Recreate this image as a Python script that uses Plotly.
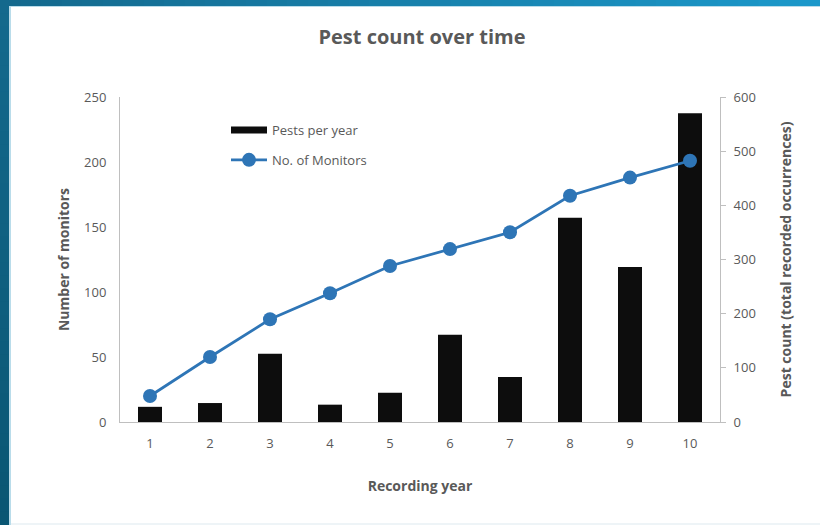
import plotly.graph_objects as go

# Recording years and measured series
years = [1, 2, 3, 4, 5, 6, 7, 8, 9, 10]
year_labels = [str(y) for y in years]
pests_per_year = [28, 35, 126, 32, 54, 161, 83, 377, 286, 570]
monitors = [20, 50, 79, 99, 120, 133, 146, 174, 188, 201]

monitor_ticks = [0, 50, 100, 150, 200, 250]
pest_ticks = [0, 100, 200, 300, 400, 500, 600]

W, H = 820, 525
L, R, T, B = 120, 100, 97, 103
PW, PH = W - L - R, H - T - B

GREY = "#595959"
AXIS = "#bfbfbf"
BLUE = "#2E75B6"
FONT = "Open Sans"


def px_x(px):
    return (px - L) / PW


def px_y(py):
    return (H - B - py) / PH


def mix(c1, c2, t):
    a = [int(c1[i:i + 2], 16) for i in (1, 3, 5)]
    b = [int(c2[i:i + 2], 16) for i in (1, 3, 5)]
    return "#" + "".join(f"{round(a[k] + (b[k] - a[k]) * t):02x}" for k in range(3))


fig = go.Figure()

fig.add_trace(go.Bar(
    x=years, y=pests_per_year, name="Pests per year",
    marker=dict(color="#0d0d0d", line=dict(width=0)),
    width=0.4, yaxis="y", showlegend=False, legendgroup="pests",
))
# legend entry for the bars, shown as a wide black swatch
fig.add_trace(go.Scatter(
    x=[None], y=[None], mode="lines", name="Pests per year",
    line=dict(color="#0d0d0d", width=7), yaxis="y",
    legendgroup="pests", showlegend=True,
))
fig.add_trace(go.Scatter(
    x=years, y=monitors, name="No. of Monitors", mode="lines+markers",
    line=dict(color=BLUE, width=2.75), marker=dict(color=BLUE, size=14),
    yaxis="y2", legendgroup="monitors",
))

# frame: gradient bands along the top and left edges
shapes = []
n = 40
for i in range(n):
    x0, x1 = W * i / n, W * (i + 1) / n
    shapes.append(dict(type="rect", xref="paper", yref="paper",
                       x0=px_x(x0), x1=px_x(x1 + 1), y0=px_y(6), y1=px_y(0),
                       fillcolor=mix("#14698d", "#1b98ca", i / (n - 1)),
                       line=dict(width=0), layer="below"))
for i in range(n):
    y0, y1 = H * i / n, H * (i + 1) / n
    shapes.append(dict(type="rect", xref="paper", yref="paper",
                       x0=px_x(0), x1=px_x(9), y0=px_y(y1 + 1), y1=px_y(max(y0, 0)),
                       fillcolor=mix("#14698d", "#0a5673", i / (n - 1)),
                       line=dict(width=0), layer="below"))
shapes.append(dict(type="rect", xref="paper", yref="paper",
                   x0=px_x(9), x1=px_x(11), y0=px_y(H), y1=px_y(6),
                   fillcolor="#b9dcea", line=dict(width=0), layer="below"))
shapes.append(dict(type="rect", xref="paper", yref="paper",
                   x0=px_x(9), x1=px_x(W), y0=px_y(7), y1=px_y(6),
                   fillcolor="#b9dcea", line=dict(width=0), layer="below"))
shapes.append(dict(type="rect", xref="paper", yref="paper",
                   x0=px_x(11), x1=px_x(W), y0=px_y(H), y1=px_y(H - 2),
                   fillcolor="#eef4f7", line=dict(width=0), layer="below"))

fig.update_layout(
    width=W, height=H,
    margin=dict(l=L, r=R, t=T, b=B, autoexpand=False),
    paper_bgcolor="white", plot_bgcolor="white",
    font=dict(family=FONT, color=GREY, size=13),
    title=dict(text="<b>Pest count over time</b>", x=422 / W, xanchor="center",
               xref="container", y=1 - 37 / H, yanchor="middle", yref="container",
               font=dict(family=FONT, size=20, color=GREY)),
    xaxis=dict(range=[0.5, 10.5], tickvals=years, ticktext=year_labels,
               showline=True, linecolor=AXIS, linewidth=1, ticks="",
               ticklabelstandoff=9,
               showgrid=False, zeroline=False, fixedrange=True,
               tickfont=dict(size=13, color=GREY),
               title=dict(text="<b>Recording year</b>", standoff=30,
                          font=dict(size=14, color=GREY))),
    yaxis=dict(side="right", range=[0, 600], tickvals=pest_ticks,
               showline=True, linecolor=AXIS, linewidth=1,
               ticks="outside", ticklen=5, tickcolor=AXIS,
               ticklabelstandoff=5,
               showgrid=False, zeroline=False,
               tickfont=dict(size=13, color=GREY),
               title=dict(text="<b>Pest count (total recorded occurrences)</b>",
                          standoff=26, font=dict(size=14, color=GREY))),
    yaxis2=dict(side="left", overlaying="y", range=[0, 250], tickvals=monitor_ticks,
                showline=True, linecolor=AXIS, linewidth=1, ticks="",
                ticklabelstandoff=10,
                showgrid=False, zeroline=False,
                tickfont=dict(size=13, color=GREY),
                title=dict(text="<b>Number of monitors</b>", standoff=11,
                           font=dict(size=14, color=GREY))),
    legend=dict(x=px_x(226), y=px_y(115), xanchor="left", yanchor="top",
                bgcolor="rgba(0,0,0,0)", traceorder="grouped", tracegroupgap=10,
                itemwidth=36, font=dict(size=13, color=GREY)),
    shapes=shapes,
    showlegend=True,
)

fig.write_html("out.html")
